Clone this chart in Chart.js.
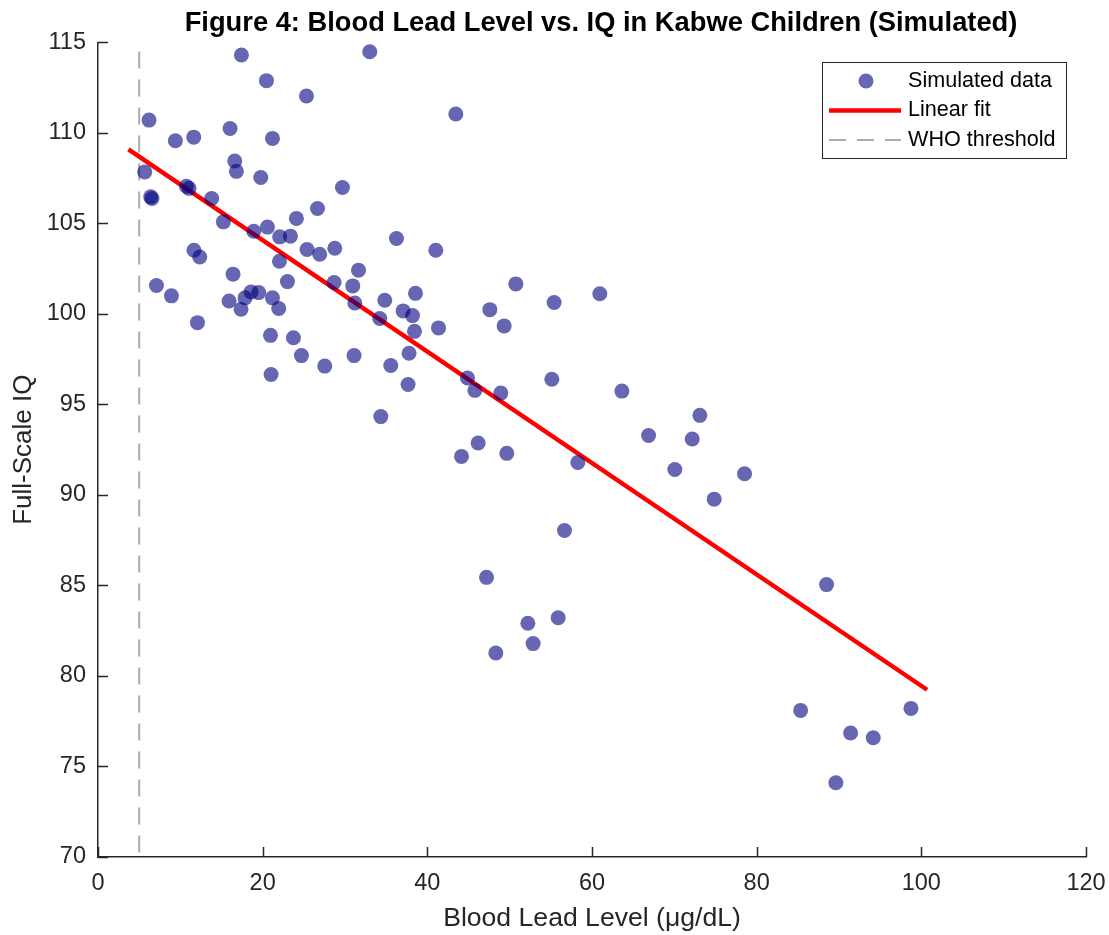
<!DOCTYPE html>
<html>
<head>
<meta charset="utf-8">
<title>Figure 4: Blood Lead Level vs. IQ</title>
<script src="https://cdn.jsdelivr.net/npm/chart.js@4.4.1/dist/chart.umd.min.js"></script>
<style>
  html, body { margin: 0; padding: 0; background: #fff; }
  #wrap { width: 1109px; height: 935px; position: relative; }
</style>
</head>
<body>
<div id="wrap"><canvas id="chart"></canvas></div>
<script>
'use strict';

// blood lead (ug/dL) and full-scale IQ
var leadLevels = [17.42, 33.01, 20.46, 25.32, 6.20, 16.04, 9.40, 11.63, 21.19, 43.46,
  16.61, 16.81, 5.67, 19.77, 10.74, 11.06, 6.40, 6.56, 29.69, 13.81,
  26.66, 24.10, 15.23, 18.92, 20.58, 22.07, 23.37, 25.39, 26.93, 28.76,
  11.66, 12.36, 36.25, 41.03, 22.04, 31.64, 16.40, 23.01, 28.67, 30.94,
  7.10, 38.56, 8.92, 18.59, 19.52, 15.92, 17.86, 21.19, 34.83, 31.19,
  37.06, 38.20, 17.37, 21.95, 34.22, 12.08, 41.36, 38.44, 20.95, 23.74,
  24.71, 31.10, 27.54, 35.56, 37.78, 21.02, 37.66, 34.35, 50.75, 60.95,
  55.40, 47.59, 49.33, 44.88, 45.77, 48.92, 55.12, 63.63, 73.10, 66.87,
  72.17, 46.17, 44.15, 49.65, 58.28, 70.06, 78.53, 74.84, 56.66, 47.19,
  55.89, 52.21, 52.85, 48.32, 88.49, 85.34, 98.74, 91.41, 94.16, 89.62];

var iqScores = [114.31, 114.49, 112.89, 112.04, 110.71, 110.25, 109.57, 109.77, 109.70, 111.05,
  108.45, 107.88, 107.85, 107.54, 107.06, 106.94, 106.47, 106.38, 106.99, 106.38,
  105.83, 105.28, 105.09, 104.57, 104.80, 104.26, 104.30, 103.56, 103.30, 103.63,
  103.52, 103.15, 104.17, 103.52, 102.91, 102.42, 102.20, 101.79, 101.74, 101.55,
  101.57, 101.14, 101.00, 101.22, 101.18, 100.72, 100.89, 100.89, 100.76, 100.61,
  100.17, 99.91, 100.26, 100.30, 99.75, 99.52, 99.23, 99.04, 98.82, 98.69,
  97.70, 97.70, 97.12, 97.15, 97.83, 96.66, 96.10, 94.33, 101.66, 101.12,
  100.63, 100.24, 99.34, 96.46, 95.78, 95.63, 96.39, 95.74, 94.40, 93.29,
  93.09, 92.87, 92.13, 92.30, 91.80, 91.41, 91.17, 89.77, 88.04, 85.45,
  83.22, 82.91, 81.79, 81.27, 85.05, 78.10, 78.21, 76.85, 76.59, 74.10];

// fitted line end points
var fitLead = [3.7, 100.7];
var fitIQ = [109.09, 79.24];

// WHO reference level (drawn top to bottom so the dashes start at the top)
var whoLead = [5, 5];
var whoIQ = [114.5, 70];

var xTicks = [0, 20, 40, 60, 80, 100, 120];
var yTicks = [70, 75, 80, 85, 90, 95, 100, 105, 110, 115];

var FONT = "'Liberation Sans', Arial, Helvetica, sans-serif";
var AXIS_COLOR = '#262626';

function toPoints(xs, ys) {
  var pts = [];
  for (var i = 0; i < xs.length; i++) {
    pts.push({ x: xs[i], y: ys[i] });
  }
  return pts;
}

function fixedTicks(values) {
  return function (scale) {
    scale.ticks = values.map(function (v) { return { value: v }; });
  };
}

// matlab style tick marks, pointing into the plot
var innerTicks = {
  id: 'innerTicks',
  afterDatasetsDraw: function (chart) {
    var ctx = chart.ctx;
    var area = chart.chartArea;
    var xs = chart.scales.x;
    var ys = chart.scales.y;
    ctx.save();
    ctx.strokeStyle = AXIS_COLOR;
    ctx.lineWidth = 1.5;
    ctx.beginPath();
    xTicks.forEach(function (t) {
      var px = Math.round(xs.getPixelForValue(t)) + 0.5;
      ctx.moveTo(px, area.bottom);
      ctx.lineTo(px, area.bottom - 10);
    });
    yTicks.forEach(function (t) {
      var py = Math.round(ys.getPixelForValue(t)) + 0.5;
      ctx.moveTo(area.left, py);
      ctx.lineTo(area.left + 10, py);
    });
    ctx.stroke();
    ctx.restore();
  }
};

// title sits a little right of the axes centre in the original
var titleNudge = {
  id: 'titleNudge',
  afterLayout: function (chart) {
    if (chart.titleBlock) {
      chart.titleBlock.left += 9;
      chart.titleBlock.right += 9;
    }
  }
};

// boxed legend in the top right corner of the axes
var boxLegend = {
  id: 'boxLegend',
  afterDraw: function (chart) {
    var ctx = chart.ctx;
    var area = chart.chartArea;
    var w = 244, h = 96;
    var left = area.right - 264;
    var top = area.top + 19.5;

    ctx.save();
    ctx.fillStyle = '#fff';
    ctx.fillRect(left, top, w, h);
    ctx.strokeStyle = AXIS_COLOR;
    ctx.lineWidth = 1;
    ctx.strokeRect(Math.round(left) + 0.5, Math.round(top) + 0.5, w, h);

    ctx.font = '21.6px ' + FONT;
    ctx.textBaseline = 'middle';
    ctx.textAlign = 'left';

    chart.data.datasets.forEach(function (ds, i) {
      var cy = top + 19 + i * 29.5;
      if (ds.showLine) {
        ctx.beginPath();
        ctx.strokeStyle = ds.borderColor;
        ctx.lineWidth = ds.borderWidth;
        ctx.setLineDash(ds.borderDash || []);
        ctx.moveTo(left + 7, cy);
        ctx.lineTo(left + 79, cy);
        ctx.stroke();
        ctx.setLineDash([]);
      } else {
        ctx.beginPath();
        ctx.fillStyle = ds.pointBackgroundColor;
        ctx.arc(left + 44, cy, ds.pointRadius, 0, Math.PI * 2);
        ctx.fill();
      }
      ctx.fillStyle = '#000';
      ctx.fillText(ds.label, left + 86, cy);
    });
    ctx.restore();
  }
};

var ctx = document.getElementById('chart').getContext('2d');

var chart = new Chart(ctx, {
  type: 'scatter',
  data: {
    datasets: [{
      label: 'Simulated data',
      data: toPoints(leadLevels, iqScores),
      showLine: false,
      pointRadius: 7.5,
      pointHoverRadius: 7.5,
      pointBorderWidth: 0,
      pointBackgroundColor: 'rgba(0, 0, 128, 0.6)'
    }, {
      label: 'Linear fit',
      data: toPoints(fitLead, fitIQ),
      showLine: true,
      borderColor: '#ff0000',
      borderWidth: 4.5,
      pointRadius: 0
    }, {
      label: 'WHO threshold',
      data: toPoints(whoLead, whoIQ),
      showLine: true,
      borderColor: '#acacac',
      borderWidth: 2,
      borderDash: [17, 11],
      pointRadius: 0
    }]
  },
  options: {
    responsive: true,
    maintainAspectRatio: false,
    animation: false,
    layout: { padding: { left: 0, right: 23, top: 0, bottom: 0 } },
    plugins: {
      legend: { display: false },
      tooltip: { enabled: false },
      title: {
        display: true,
        text: 'Figure 4: Blood Lead Level vs. IQ in Kabwe Children (Simulated)',
        color: '#000',
        fullSize: false,
        font: { family: FONT, size: 27.3, weight: 'bold' },
        padding: { top: 6.6, bottom: 3.1 }
      }
    },
    scales: {
      x: {
        type: 'linear',
        min: 0,
        max: 120,
        afterBuildTicks: fixedTicks(xTicks),
        afterFit: function (scale) {
          scale.height = 78;
          scale.paddingLeft = 0;
          scale.paddingRight = 0;
        },
        grid: { display: false, drawTicks: false },
        border: { display: true, color: AXIS_COLOR, width: 1.5 },
        ticks: {
          color: AXIS_COLOR,
          padding: 12,
          maxRotation: 0,
          font: { family: FONT, size: 23.5 }
        },
        title: {
          display: true,
          text: 'Blood Lead Level (μg/dL)',
          color: AXIS_COLOR,
          padding: { top: 0, bottom: 0 },
          font: { family: FONT, size: 26.6 }
        }
      },
      y: {
        type: 'linear',
        min: 70,
        max: 115,
        afterBuildTicks: fixedTicks(yTicks),
        afterFit: function (scale) {
          scale.width = 98;
          scale.paddingTop = 0;
          scale.paddingBottom = 0;
        },
        grid: { display: false, drawTicks: false },
        border: { display: true, color: AXIS_COLOR, width: 1.5 },
        ticks: {
          color: AXIS_COLOR,
          padding: 12,
          font: { family: FONT, size: 23.5 }
        },
        title: {
          display: true,
          text: 'Full-Scale IQ',
          color: AXIS_COLOR,
          padding: { top: 7.8, bottom: 7.8 },
          font: { family: FONT, size: 26 }
        }
      }
    }
  },
  plugins: [innerTicks, titleNudge, boxLegend]
});
</script>
</body>
</html>
